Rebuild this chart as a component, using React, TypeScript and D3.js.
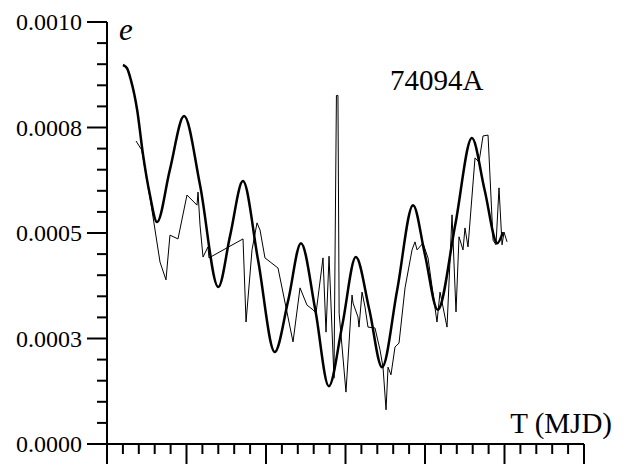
import React from "react";
import * as d3 from "d3";

// thick (model) curve: T (days from start), e
const modelT = [20, 25, 30, 38, 45, 54, 63, 79, 97, 117, 140, 155, 171, 190, 211, 228, 244, 262, 279, 296, 313, 330, 346, 365, 385, 400, 416, 438, 459, 475, 491, 498];
const modelE = [0.000898, 0.000891, 0.000863, 0.000791, 0.00069, 0.00059, 0.000526, 0.000649, 0.000777, 0.000614, 0.000372, 0.000495, 0.000623, 0.000436, 0.000218, 0.000341, 0.000476, 0.000318, 0.000137, 0.000282, 0.000443, 0.000318, 0.000182, 0.000365, 0.000566, 0.000448, 0.000318, 0.000519, 0.000725, 0.000602, 0.000476, 0.000502];

// thin (observed) curve
const obsT = [36.5, 43.6, 54.1, 57.9, 66.7, 74.2, 79.2, 89.3, 100.6, 113.2, 114.5, 117, 120.8, 127, 128.3, 171.1, 174.9, 182.4, 188.7, 192.5, 198.7, 215.1, 234, 242.8, 251.6, 259.1, 262.9, 271.7, 275.5, 279.3, 285.5, 288.6, 290.5, 292, 300.6, 308.2, 309.5, 315.7, 317, 320.8, 324.5, 328.3, 337.1, 343.4, 347.2, 351, 353.5, 357.2, 362.3, 367.3, 374.9, 383.7, 387.4, 390, 397.5, 403.8, 415.1, 418.9, 427.7, 434, 439, 442.8, 447.8, 450.3, 454.1, 462.9, 467.9, 473, 479.3, 485.6, 489.3, 493.1, 496.9, 499.4, 503.2];
const obsE = [0.000718, 0.000697, 0.000583, 0.000538, 0.000431, 0.000389, 0.000495, 0.000486, 0.00059, 0.000566, 0.000597, 0.000519, 0.000443, 0.000467, 0.000441, 0.000486, 0.000289, 0.00046, 0.000524, 0.000507, 0.000441, 0.000417, 0.000242, 0.00037, 0.000329, 0.000318, 0.00031, 0.000441, 0.000265, 0.000445, 0.000156, 0.000826, 0.000826, 0.00031, 0.000123, 0.000353, 0.000334, 0.000301, 0.000277, 0.00036, 0.000325, 0.000277, 0.000275, 0.000223, 0.000182, 0.000081, 0.000182, 0.000164, 0.00023, 0.000239, 0.00037, 0.00046, 0.000479, 0.00046, 0.000476, 0.000441, 0.000289, 0.00036, 0.000277, 0.000543, 0.000313, 0.000491, 0.00046, 0.000512, 0.000467, 0.000678, 0.000668, 0.00073, 0.000732, 0.000483, 0.000472, 0.000607, 0.000472, 0.000502, 0.000479];

const yMajor = [0, 0.00025, 0.0005, 0.00075, 0.001];
const yLabels = ["0.0000", "0.0003", "0.0005", "0.0008", "0.0010"];

const W = 629, H = 465;
const left = 107, right = 584, top = 22, bottom = 444;
const font = "'Liberation Serif', 'Times New Roman', serif";

export default function App() {
  const x = d3.scaleLinear().domain([0, 600]).range([left, right]);
  const y = d3.scaleLinear().domain([0, 0.001]).range([bottom, top]);

  const modelLine = d3.line<number>()
    .x((_, i) => x(modelT[i]))
    .y((d) => y(d))
    .curve(d3.curveMonotoneX);
  const obsLine = d3.line<number>()
    .x((_, i) => x(obsT[i]))
    .y((d) => y(d));

  const xMinor = d3.range(0, 601, 20);
  const yMinor = d3.range(0, 21).map((i) => i * 0.00005);

  return (
    <svg width={W} height={H} style={{ position: "absolute", left: 0, top: 0, background: "#fff" }}>
      {/* axes */}
      <line x1={left} x2={left} y1={top} y2={bottom} stroke="#000" strokeWidth={2} />
      <line x1={left} x2={right} y1={bottom} y2={bottom} stroke="#000" strokeWidth={2} />
      {xMinor.map((t, i) => {
        const major = Math.round(t) % 100 === 0;
        return (
          <line key={"xt" + i} x1={x(t)} x2={x(t)} y1={bottom} y2={bottom + (major ? 20 : 10)} stroke="#000" strokeWidth={2} />
        );
      })}
      {yMinor.map((v, i) => {
        const major = i % 5 === 0;
        return (
          <line key={"yt" + i} x1={left - (major ? 20 : 10)} x2={left} y1={y(v)} y2={y(v)} stroke="#000" strokeWidth={2} />
        );
      })}
      {yMajor.map((v, i) => (
        <text key={"yl" + i} x={82} y={y(v)} dy="0.35em" textAnchor="end" fontFamily={font} fontSize={24} fill="#000">
          {yLabels[i]}
        </text>
      ))}
      <text x={119} y={40} fontFamily={font} fontSize={31} fontStyle="italic" fill="#000">e</text>
      <text x={390} y={90} fontFamily={font} fontSize={29} fill="#000">74094A</text>
      <text x={612} y={433} textAnchor="end" fontFamily={font} fontSize={29} fill="#000">T (MJD)</text>
      {/* data */}
      <path d={obsLine(obsE) || ""} fill="none" stroke="#000" strokeWidth={1} />
      <path d={modelLine(modelE) || ""} fill="none" stroke="#000" strokeWidth={2.5} />
    </svg>
  );
}
